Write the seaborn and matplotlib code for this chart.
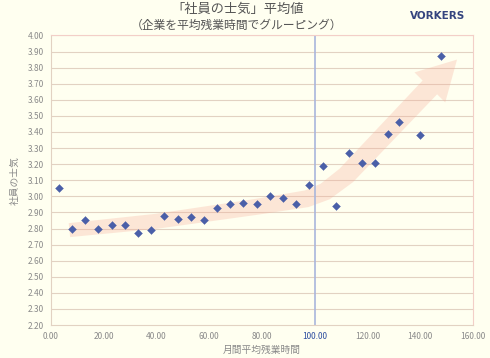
import numpy as np
import pandas as pd
import matplotlib
matplotlib.use("Agg")
import matplotlib.pyplot as plt
import seaborn as sns

# monthly average overtime hours (group mean) and average morale score
overtime = [3, 8, 13, 18, 23, 28, 33, 38, 43, 48, 53, 58, 63, 68, 73, 78,
            83, 88, 93, 98, 103, 108, 113, 118, 123, 128, 132, 140, 148]
morale = [3.05, 2.80, 2.85, 2.80, 2.82, 2.82, 2.77, 2.79, 2.88, 2.86, 2.87, 2.85,
          2.93, 2.95, 2.96, 2.95, 3.00, 2.99, 2.95, 3.07, 3.19, 2.94, 3.27, 3.21,
          3.21, 3.39, 3.46, 3.38, 3.87]
x_ticks = [0, 20, 40, 60, 80, 100, 120, 140, 160]
y_ticks = [round(2.2 + 0.1 * i, 2) for i in range(19)]

# centre line of the trend arrow (decoration), data units
arrow_line = [(7, 2.79), (40, 2.845), (78, 2.935), (97, 2.985), (104, 3.03),
              (112, 3.13), (143.7, 3.677)]
arrow_tip = (154, 3.85)

BG = "#fffff0"
GRID = "#e2d2c2"
PINK = "#f3cfc8"
MARK = "#4a5fa8"
GRAY = "#8a8a8a"

sns.set_theme(style="white")
plt.rcParams["font.family"] = ["Noto Sans CJK JP", "DejaVu Sans"]

df = pd.DataFrame({"overtime": overtime, "morale": morale})

fig = plt.figure(figsize=(4.9, 3.58), dpi=100, facecolor=BG)
ax = fig.add_axes([0.104, 0.092, 0.861, 0.809])
ax.set_facecolor(BG)
ax.set_xlim(0, 160)
ax.set_ylim(2.2, 4.0)

for y in y_ticks[1:]:
    ax.axhline(y, color=GRID, lw=0.8, zorder=0.5)

# build arrow polygon in pixel space so the width stays even
def to_px(pts):
    return ax.transData.transform(np.asarray(pts, dtype=float))

cl = to_px(arrow_line)
half = np.linspace(7, 10, len(cl))
left, right = [], []
for i in range(len(cl)):
    if i == 0:
        d = cl[1] - cl[0]
    elif i == len(cl) - 1:
        d = cl[-1] - cl[-2]
    else:
        d = cl[i + 1] - cl[i - 1]
    d = d / np.hypot(*d)
    n = np.array([-d[1], d[0]])
    left.append(cl[i] + n * half[i])
    right.append(cl[i] - n * half[i])
tip = to_px([arrow_tip])[0]
d = tip - cl[-1]
d = d / np.hypot(*d)
n = np.array([-d[1], d[0]])
head_l = cl[-1] + n * 21.5
head_r = cl[-1] - n * 21.5
poly = np.vstack([left, [head_l, tip, head_r], right[::-1]])
poly = ax.transData.inverted().transform(poly)
ax.fill(poly[:, 0], poly[:, 1], color="#f6a894", alpha=0.28, lw=0, zorder=1)

ax.axvline(100, color="#a9b6dc", lw=1.2, zorder=2)

sns.scatterplot(data=df, x="overtime", y="morale", marker="D", s=16,
                color=MARK, edgecolor=MARK, linewidth=0.3, ax=ax, zorder=3)

ax.set_xticks(x_ticks)
ax.set_xticklabels([f"{v:.2f}" for v in x_ticks])
ax.set_yticks(y_ticks)
ax.set_yticklabels([f"{v:.2f}" for v in y_ticks])
ax.tick_params(axis="both", labelsize=6, colors=GRAY, length=3, width=0.6,
               direction="out", pad=2)
ax.tick_params(axis="x", color=PINK)
ax.tick_params(axis="y", color=GRID)
for lbl in ax.get_xticklabels():
    if lbl.get_text() == "100.00":
        lbl.set_color("#2f4fa0")

for side in ["top", "right"]:
    ax.spines[side].set_color(PINK)
    ax.spines[side].set_linewidth(0.8)
ax.spines["left"].set_color(GRID)
ax.spines["bottom"].set_color(GRID)
ax.spines["left"].set_linewidth(0.8)
ax.spines["bottom"].set_linewidth(0.8)

ax.set_xlabel("月間平均残業時間", fontsize=7, color=GRAY, labelpad=3)
ax.set_ylabel("社員の士気", fontsize=7, color=GRAY, labelpad=6)

fig.text(0.485, 0.975, "「社員の士気」平均値", ha="center", va="center",
         fontsize=9.5, color="#555555")
fig.text(0.482, 0.928, "（企業を平均残業時間でグルーピング）", ha="center", va="center",
         fontsize=8.5, color="#555555")
fig.text(0.893, 0.955, "VORKERS", ha="center", va="center", fontsize=7.5,
         fontweight="bold", color="#34447e", family="DejaVu Sans")

fig.savefig("out.png", dpi=100, facecolor=BG)
